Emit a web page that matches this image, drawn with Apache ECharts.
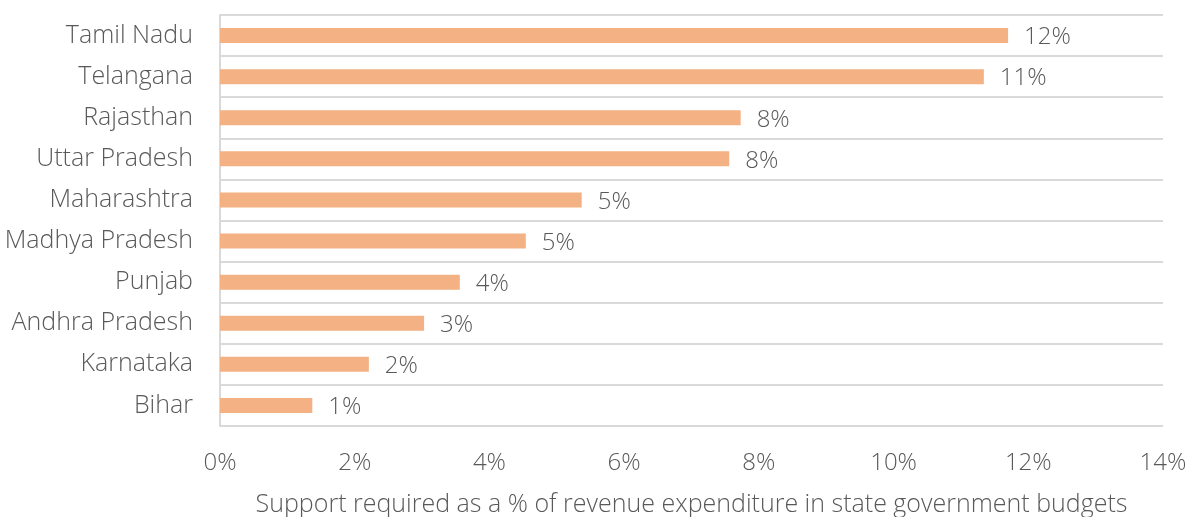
<!DOCTYPE html>
<html>
<head>
<meta charset="utf-8">
<script src="https://cdn.jsdelivr.net/npm/echarts@6/dist/echarts.min.js"></script>
<style>html,body{margin:0;padding:0;background:#fff;}#c{width:1189px;height:517px;}</style>
</head>
<body>
<div id="c"></div>
<script>
const states = ["Tamil Nadu","Telangana","Rajasthan","Uttar Pradesh","Maharashtra","Madhya Pradesh","Punjab","Andhra Pradesh","Karnataka","Bihar"];
const support = [11.7, 11.34, 7.73, 7.56, 5.37, 4.54, 3.56, 3.03, 2.21, 1.37];
const xTicks = [0, 2, 4, 6, 8, 10, 12, 14];
const axisTitle = "Support required as a % of revenue expenditure in state government budgets";

const chart = echarts.init(document.getElementById('c'), null, {renderer: 'canvas'});
const font = "'Open Sans', 'Noto Sans', sans-serif";
chart.setOption({
  animation: false,
  grid: {left: 220, right: 26, top: 15, bottom: 91, containLabel: false, outerBoundsMode: 'none'},
  xAxis: {
    type: 'value', min: xTicks[0], max: xTicks[xTicks.length-1], interval: 2,
    axisLine: {show: false}, axisTick: {show: false}, splitLine: {show: false},
    axisLabel: {formatter: v => v + '%', color: '#595959', fontSize: 24, fontWeight: 300, fontFamily: font, margin: 25},
    name: axisTitle, nameLocation: 'middle', nameGap: 66,
    nameTextStyle: {color: '#595959', fontSize: 25, fontWeight: 300, fontFamily: font}
  },
  yAxis: {
    type: 'category', data: states, inverse: true,
    axisLine: {show: true, lineStyle: {color: '#d9d9d9', width: 2}},
    axisTick: {show: false},
    splitLine: {show: true, lineStyle: {color: '#d9d9d9', width: 2}},
    axisLabel: {color: '#595959', fontSize: 25, fontWeight: 300, fontFamily: font, margin: 27, padding: [4, 0, 0, 0]}
  },
  series: [{
    type: 'bar', data: support, barWidth: 15,
    itemStyle: {color: '#f4b183'},
    label: {show: true, position: 'right', distance: 16, offset: [0, 2], formatter: p => Math.round(p.value) + '%',
      color: '#595959', fontSize: 24, fontWeight: 300, fontFamily: font}
  }]
});
</script>
</body>
</html>
